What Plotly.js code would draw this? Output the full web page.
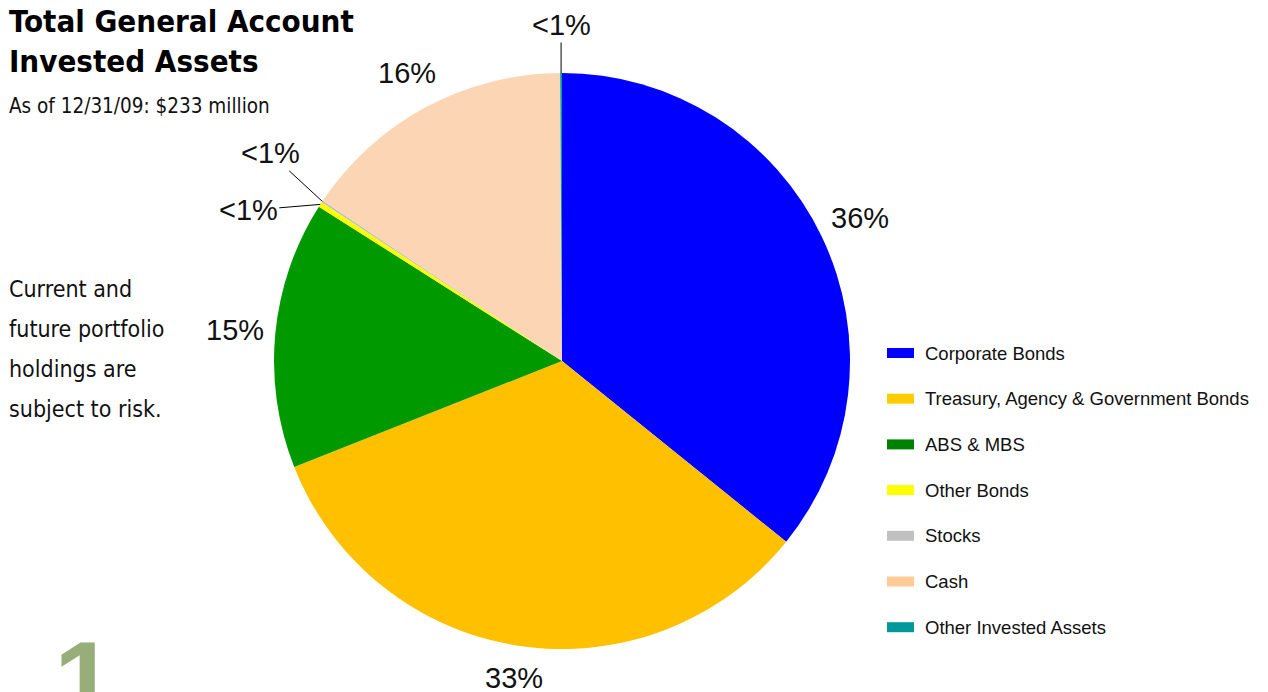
<!DOCTYPE html>
<html><head><meta charset="utf-8">
<script src="https://cdn.plot.ly/plotly-3.0.1.min.js"></script>
<style>html,body{margin:0;padding:0;background:#fff}#chart{width:1268px;height:692px}</style>
</head><body><div id="chart"></div>
<script>
// ---- data ----
var categories = ["Corporate Bonds","Treasury, Agency & Government Bonds","ABS & MBS","Other Bonds","Stocks","Cash","Other Invested Assets"];
var values = [35.8, 33.2, 15.0, 0.3, 0.1, 15.5, 0.1];
var labelsText = ["36%","33%","15%","<1%","<1%","16%","<1%"];
var sliceColors = ["#0000ff","#ffc000","#009900","#ffff00","#c0c0c0","#fcd5b5","#009999"];
var legendColors = ["#0000ff","#ffcc00","#008000","#ffff00","#c0c0c0","#ffcc99","#009999"];
var titleLines = ["Total General Account","Invested Assets"];
var subtitle = "As of 12/31/09: $233 million";
var noteLines = ["Current and","future portfolio","holdings are","subject to risk."];

// ---- layout helpers ----
var W = 1268, H = 692;
function px(x){return x/W;}
function py(y){return 1 - y/H;}
var cx = 562, cy = 361, R = 288;
var narrow = "'Liberation Sans Narrow','DejaVu Sans Condensed',Arial,sans-serif";
var sans = "'Liberation Sans',Arial,sans-serif";

// small-slice leader offsets (pixels) for labels of tiny slices
var leader = {3:{ax:-72,ay:6}, 4:{ax:-52,ay:-48}, 6:{ax:0,ay:-48}};

var total = values.reduce(function(a,b){return a+b;},0);
var ann = [];
var cum = 0;
var hw = 24, hh = 14, gap = 15;
for (var i=0;i<values.length;i++){
  var mid = (cum + values[i]/2)/total*2*Math.PI;
  cum += values[i];
  var s = Math.sin(mid), c = Math.cos(mid);
  if (leader[i]) {
    var ex = cx + R*s, ey = cy - R*c;
    ann.push({xref:'paper',yref:'paper',x:px(ex),y:py(ey),text:labelsText[i],showarrow:true,
      arrowhead:0,arrowwidth:1,arrowcolor:'#000',ax:leader[i].ax,ay:leader[i].ay,
      font:{family:sans,size:29,color:'#111'}});
  } else {
    var r = R + gap + Math.abs(s)*hw + Math.abs(c)*hh;
    ann.push({xref:'paper',yref:'paper',x:px(cx + r*s),y:py(cy - r*c),
      text:labelsText[i],showarrow:false,xanchor:'center',yanchor:'middle',
      font:{family:sans,size:29,color:'#111'}});
  }
}
// titles
ann.push({xref:'paper',yref:'paper',x:px(7),y:py(21),xanchor:'left',yanchor:'middle',showarrow:false,
  text:'<b>'+titleLines[0]+'</b>',font:{family:narrow,size:31,color:'#000'}});
ann.push({xref:'paper',yref:'paper',x:px(7),y:py(61),xanchor:'left',yanchor:'middle',showarrow:false,
  text:'<b>'+titleLines[1]+'</b>',font:{family:narrow,size:31,color:'#000'}});
ann.push({xref:'paper',yref:'paper',x:px(7),y:py(106),xanchor:'left',yanchor:'middle',showarrow:false,
  text:subtitle,font:{family:narrow,size:20.5,color:'#111'}});
for (var k=0;k<noteLines.length;k++){
  ann.push({xref:'paper',yref:'paper',x:px(7),y:py(289+40*k),xanchor:'left',yanchor:'middle',showarrow:false,
    text:noteLines[k],font:{family:narrow,size:23,color:'#111'}});
}
// decorative digit
ann.push({xref:'paper',yref:'paper',x:px(84),y:py(616),xanchor:'center',yanchor:'top',showarrow:false,
  text:'<b>1</b>',font:{family:sans,size:110,color:'#97ad7a'}});

// custom legend
var shapes = [];
for (var j=0;j<categories.length;j++){
  var ly = 353 + 45.7*j;
  shapes.push({type:'rect',xref:'paper',yref:'paper',x0:px(887),x1:px(914),y0:py(ly-5),y1:py(ly+5),
    fillcolor:legendColors[j],line:{width:0}});
  ann.push({xref:'paper',yref:'paper',x:px(923),y:py(ly),xanchor:'left',yanchor:'middle',showarrow:false,
    text:categories[j],font:{family:sans,size:18.5,color:'#111'}});
}

var trace = {type:'pie',labels:categories,values:values,sort:false,direction:'clockwise',rotation:0,
  marker:{colors:sliceColors,line:{width:0}},textinfo:'none',hoverinfo:'skip',showlegend:false,
  domain:{x:[px(cx-R),px(cx+R)],y:[py(cy+R),py(cy-R)]}};

var layout = {width:W,height:H,margin:{l:0,r:0,t:0,b:0},paper_bgcolor:'#fff',showlegend:false,
  annotations:ann,shapes:shapes};
Plotly.newPlot('chart',[trace],layout,{displayModeBar:false,staticPlot:true});
</script></body></html>
